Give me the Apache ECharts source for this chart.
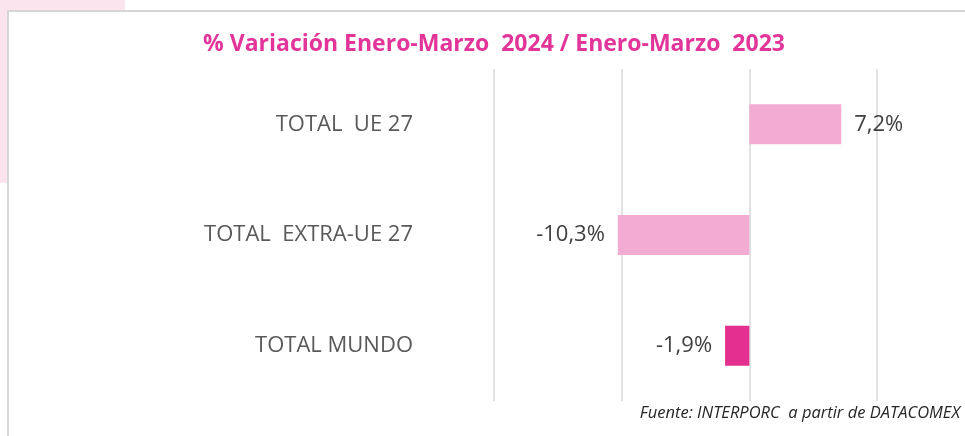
<!DOCTYPE html>
<html>
<head>
<meta charset="utf-8">
<script src="https://cdn.jsdelivr.net/npm/echarts@6/dist/echarts.min.js"></script>
<style>
  html, body { margin: 0; padding: 0; background: #ffffff; }
  #chart { width: 965px; height: 436px; }
</style>
</head>
<body>
<div id="chart"></div>
<script>
// Regions, top to bottom
const categories = ['TOTAL  UE 27', 'TOTAL  EXTRA-UE 27', 'TOTAL MUNDO'];
// % change Jan–Mar 2024 vs Jan–Mar 2023
const variation = [7.2, -10.3, -1.9];
const barColors = ['#f2abd3', '#f2abd3', '#e32f8f'];

const titleText = '% Variación Enero-Marzo  2024 / Enero-Marzo  2023';
const sourceText = 'Fuente: INTERPORC  a partir de DATACOMEX';

const fmt = v => (v < 0 ? '-' : '') + Math.abs(v).toFixed(1).replace('.', ',') + '%';

const chart = echarts.init(document.getElementById('chart'), null, { renderer: 'canvas' });

chart.setOption({
  backgroundColor: '#ffffff',
  animation: false,
  title: {
    text: titleText,
    left: 489,
    top: 28,
    textAlign: 'center',
    textStyle: {
      fontFamily: 'Open Sans',
      fontWeight: 'bold',
      fontSize: 23,
      color: '#e2359a'
    }
  },
  graphic: [
    // soft pink corner behind the frame
    { type: 'rect', shape: { x: 0, y: 0, width: 125, height: 11 }, style: { fill: '#fbe4ee' }, z: -2 },
    { type: 'rect', shape: { x: 0, y: 0, width: 8, height: 183 }, style: { fill: '#fbe4ee' }, z: -2 },
    // frame lines
    { type: 'line', shape: { x1: 7.5, y1: 11, x2: 965, y2: 11 }, style: { stroke: '#d6d6d6', lineWidth: 2 }, z: -1 },
    { type: 'line', shape: { x1: 8, y1: 10, x2: 8, y2: 436 }, style: { stroke: '#d6d6d6', lineWidth: 2 }, z: -1 },
    {
      type: 'text',
      right: 5,
      top: 405,
      style: {
        text: sourceText,
        font: 'italic 16.5px "Open Sans"',
        fill: '#262626'
      }
    }
  ],
  grid: {
    left: 494,
    right: 88,
    top: 69,
    height: 332,
    containLabel: false
  },
  xAxis: {
    type: 'value',
    min: -20,
    max: 10,
    interval: 10,
    axisLine: { show: false },
    axisTick: { show: false },
    axisLabel: { show: false },
    splitLine: { show: true, lineStyle: { color: '#d9d9d9', width: 1.5 } }
  },
  yAxis: {
    type: 'category',
    data: categories,
    inverse: true,
    axisLine: { show: false },
    axisTick: { show: false },
    axisLabel: {
      margin: 81,
      fontFamily: 'Open Sans',
      fontSize: 22,
      color: '#595959'
    }
  },
  series: [{
    type: 'bar',
    barWidth: 40,
    data: variation.map((v, i) => ({
      value: v,
      itemStyle: { color: barColors[i] },
      label: {
        show: true,
        position: v >= 0 ? 'right' : 'left',
        distance: 13,
        formatter: p => fmt(p.value),
        fontFamily: 'Open Sans',
        fontSize: 22,
        color: '#404040'
      }
    }))
  }]
});
</script>
</body>
</html>
